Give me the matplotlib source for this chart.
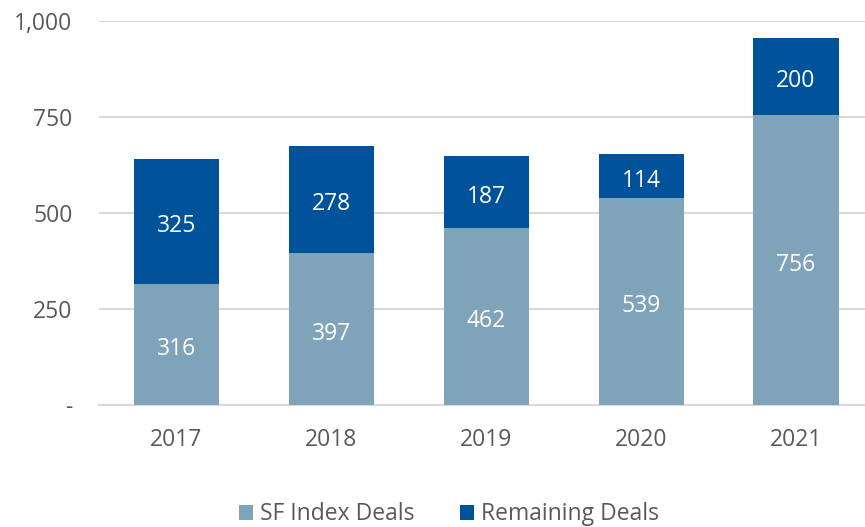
import numpy as np
import matplotlib.pyplot as plt
from matplotlib.ticker import FuncFormatter

plt.rcParams['font.family'] = ['Open Sans', 'DejaVu Sans']

years = ["2017", "2018", "2019", "2020", "2021"]
sf_index = [316, 397, 462, 539, 756]
remaining = [325, 278, 187, 114, 200]

light = '#7fa3b8'
dark = '#00539b'
text_col = '#595959'
fs = 16.5

fig = plt.figure(figsize=(8.65, 5.27), dpi=100)
ax = fig.add_axes([99 / 865, 122 / 527, 774.5 / 865, 384 / 527])

x = np.arange(len(years))
b1 = ax.bar(x, sf_index, width=0.55, color=light, label='SF Index Deals', zorder=3)
b2 = ax.bar(x, remaining, width=0.55, bottom=sf_index, color=dark, label='Remaining Deals', zorder=3)

# value labels inside each segment
for i in range(len(years)):
    ax.annotate(str(sf_index[i]), (x[i], sf_index[i] / 2), xytext=(0, -3.5),
                textcoords='offset points', ha='center', va='center',
                color='white', fontsize=fs, zorder=4)
    ax.annotate(str(remaining[i]), (x[i], sf_index[i] + remaining[i] / 2), xytext=(0, -3.5),
                textcoords='offset points', ha='center', va='center',
                color='white', fontsize=fs, zorder=4)

ax.set_xlim(-0.5, len(years) - 0.5)
ax.set_ylim(0, 1000)
ax.set_yticks([0, 250, 500, 750, 1000])
ax.yaxis.set_major_formatter(FuncFormatter(lambda v, p: '-' if v == 0 else f'{int(v):,}'))
ax.set_xticks(x)
ax.set_xticklabels(years)
ax.grid(axis='y', color='#d9d9d9', linewidth=1.5, zorder=0)
for s in ['top', 'right', 'left']:
    ax.spines[s].set_visible(False)
ax.spines['bottom'].set_color('#d9d9d9')
ax.spines['bottom'].set_linewidth(1.5)
ax.tick_params(axis='both', length=0, labelsize=fs, colors=text_col)
ax.tick_params(axis='y', pad=19)
ax.tick_params(axis='x', pad=16.5)

fig.legend(handles=[b1, b2], loc='center', bbox_to_anchor=(449 / 865, 12.5 / 527),
           ncol=2, frameon=False, fontsize=fs, labelcolor=text_col,
           handlelength=0.6, handleheight=0.6, handletextpad=0.3, columnspacing=2.0)

fig.savefig('out.png', dpi=100)
